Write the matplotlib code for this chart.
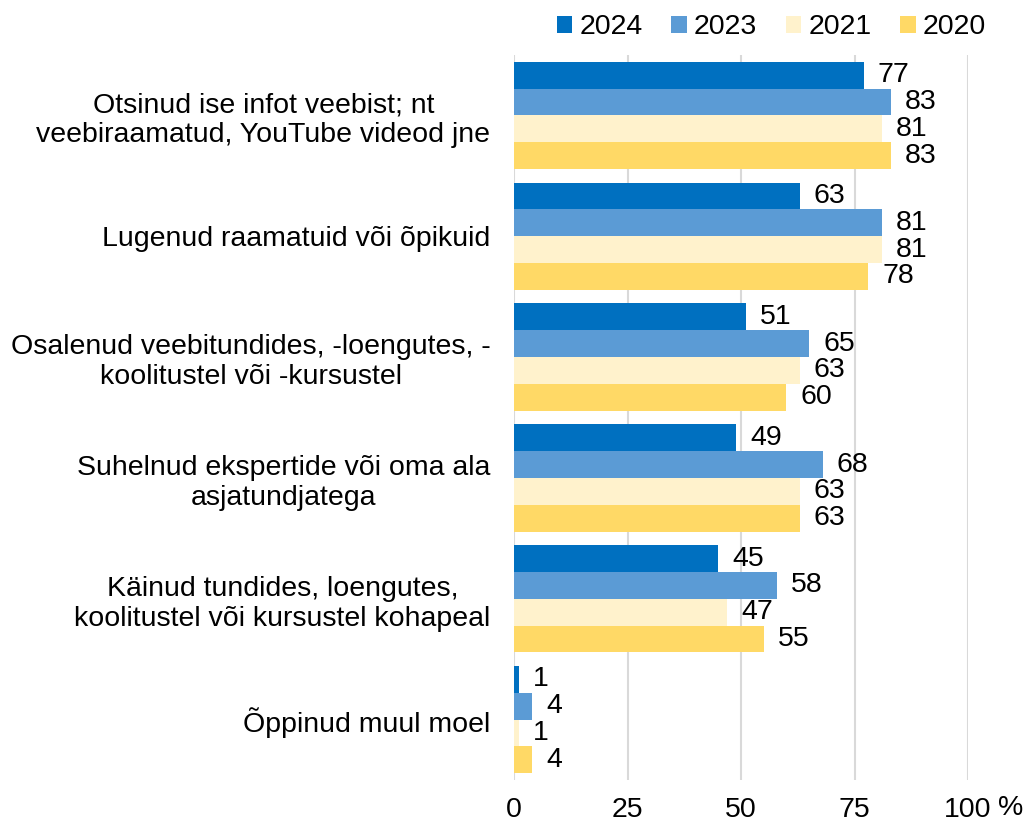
import matplotlib
matplotlib.use("Agg")
import matplotlib.pyplot as plt
import numpy as np

plt.rcParams['font.family'] = ['Liberation Sans', 'DejaVu Sans']

categories = [
    "Otsinud ise infot veebist; nt\nveebiraamatud, YouTube videod jne",
    "Lugenud raamatuid või õpikuid",
    "Osalenud veebitundides, -loengutes, -\nkoolitustel või -kursustel",
    "Suhelnud ekspertide või oma ala\nasjatundjatega",
    "Käinud tundides, loengutes,\nkoolitustel või kursustel kohapeal",
    "Õppinud muul moel",
]
series_names = ["2024", "2023", "2021", "2020"]
v2024 = [77, 63, 51, 49, 45, 1]
v2023 = [83, 81, 65, 68, 58, 4]
v2021 = [81, 81, 63, 63, 47, 1]
v2020 = [83, 78, 60, 63, 55, 4]
values = [v2024, v2023, v2021, v2020]
colors = ["#0070C0", "#5B9BD5", "#FFF2CC", "#FFD966"]
xticks = [0, 25, 50, 75, 100]

FS = 20.5

fig = plt.figure(figsize=(10.27, 8.26), dpi=100)
ax = fig.add_axes([0.5005, 0.0557, 0.4421, 0.8777])

n = len(categories)
bh = 0.222
y = np.arange(n)
for i, (name, vals, c) in enumerate(zip(series_names, values, colors)):
    pos = y + (i - 1.5) * bh
    ax.barh(pos, vals, height=bh, color=c, label=name, zorder=3)
    for p, v in zip(pos, vals):
        ax.annotate(str(v), (v, p), xytext=(10, 0), textcoords="offset points",
                    ha="left", va="center", fontsize=FS, color="#000000",
                    annotation_clip=False, zorder=4)

ax.set_ylim(n - 0.5, -0.5)
ax.set_xlim(0, 100)
ax.set_yticks(y)
ax.set_yticklabels(categories, fontsize=FS, ha="right", multialignment="center")
ax.set_xticks(xticks)
ax.set_xticklabels([str(t) for t in xticks], fontsize=FS)
ax.tick_params(axis="both", length=0)
ax.tick_params(axis="x", pad=12)
ax.tick_params(axis="y", pad=17)
for s in ax.spines.values():
    s.set_visible(False)
ax.grid(axis="x", color="#D9D9D9", linewidth=1.5, zorder=0)
ax.set_axisbelow(True)

fig.text(0.984, 0.022, "%", fontsize=FS, ha="center", va="center")

leg = fig.legend(loc="center", bbox_to_anchor=(0.751, 0.967), ncol=4, frameon=False,
                 fontsize=FS, handlelength=0.55, handleheight=0.55, handletextpad=0.25,
                 columnspacing=1.0)

fig.savefig("out.png", dpi=100)
